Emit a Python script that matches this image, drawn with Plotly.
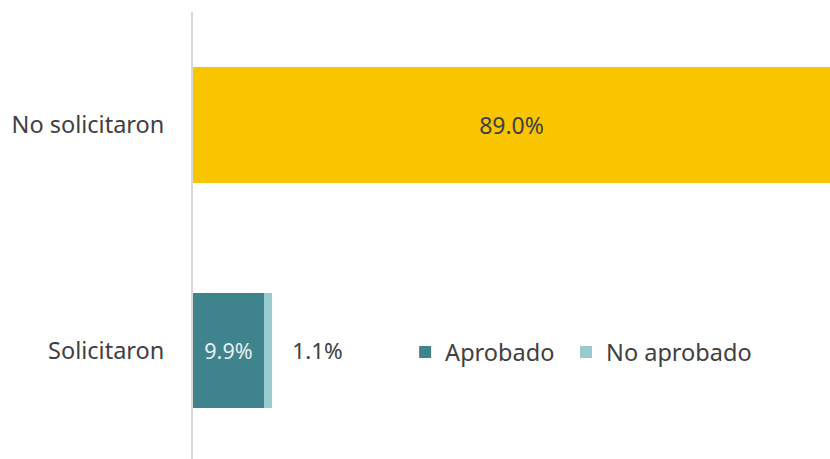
import plotly.graph_objects as go

categories = ["Solicitaron", "No solicitaron"]
aprobado = [9.9, None]
no_aprobado = [1.1, None]
no_solicitaron = [None, 89.0]

FONT = "Noto Sans"
TXT = "#404040"
FS = 23.5

fig = go.Figure()
fig.add_trace(go.Bar(
    y=categories, x=aprobado, orientation="h", name="Aprobado",
    marker=dict(color="#3F838D", line=dict(width=0)),
    texttemplate="%{x:.1f}%", textposition="inside", insidetextanchor="middle",
    textfont=dict(color="#E8F0F0", size=21.5, family=FONT), hoverinfo="skip",
    legend="legend",
))
fig.add_trace(go.Bar(
    y=categories, x=no_aprobado, orientation="h", name="No aprobado",
    marker=dict(color="#98CBCF", line=dict(width=0)),
    texttemplate="   %{x:.1f}%", textposition="outside", cliponaxis=False,
    textfont=dict(color=TXT, size=22.5, family=FONT), hoverinfo="skip",
    legend="legend2",
))
fig.add_trace(go.Bar(
    y=categories, x=no_solicitaron, orientation="h", name="No solicitaron",
    marker=dict(color="#F9C500", line=dict(width=0)), showlegend=False,
    texttemplate="%{x:.1f}%", textposition="inside", insidetextanchor="middle",
    textfont=dict(color=TXT, size=23, family=FONT), hoverinfo="skip",
))

leg_common = dict(
    orientation="h", xanchor="left", y=0.239, yanchor="middle",
    font=dict(size=FS, family=FONT, color=TXT),
    bgcolor="rgba(0,0,0,0)", itemwidth=30,
)

fig.update_layout(
    barmode="stack",
    bargap=0.49,
    width=830, height=459,
    margin=dict(l=193, r=0, t=12, b=0),
    paper_bgcolor="white", plot_bgcolor="white",
    font=dict(family=FONT, size=FS, color=TXT),
    uniformtext=dict(mode=False),
    legend=dict(x=0.333, **leg_common),
    legend2=dict(x=0.5856, **leg_common),
    xaxis=dict(range=[0, 89], visible=False, showgrid=False, fixedrange=True),
    yaxis=dict(
        range=[-0.481, 1.501], showgrid=False, zeroline=False,
        showline=True, linecolor="#D9D9D9", linewidth=2,
        ticks="", ticklabelstandoff=22,
        tickfont=dict(size=FS, family=FONT, color=TXT),
    ),
)

fig.write_html(
    "out.html",
    config={"displayModeBar": False},
    post_script="document.body.style.margin='0';document.body.style.overflow='hidden';",
)
